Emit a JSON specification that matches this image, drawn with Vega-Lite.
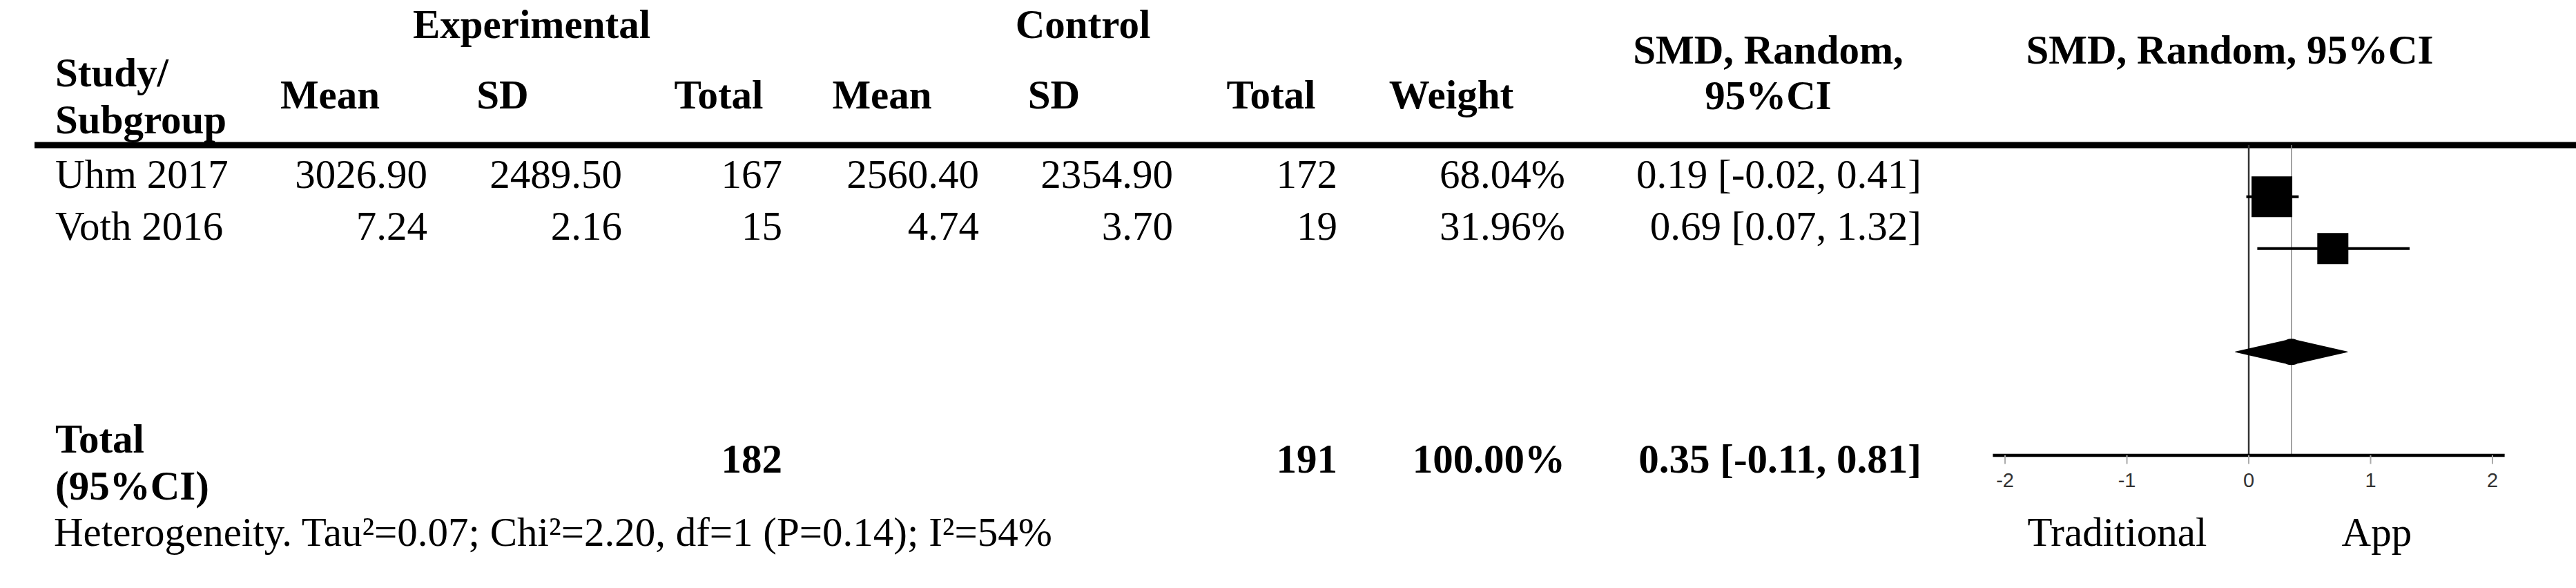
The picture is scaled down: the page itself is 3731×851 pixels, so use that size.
{
  "$schema": "https://vega.github.io/schema/vega-lite/v6.json",
  "padding": {"left": 45, "top": 0, "right": 0, "bottom": 0},
  "bounds": "flush",
  "spacing": 0,
  "background": "white",
  "config": {
    "view": {"stroke": null},
    "text": {"font": "Liberation Serif", "fontSize": 59, "color": "black", "baseline": "alphabetic"},
    "concat": {"spacing": 0}
  },
  "params": [
    {"name": "tableSlots", "value": ["t0","t1","t2","t3","group","t5","t6","t7","t8","t9","t10","t11","header","t13","t14","t15","line","t17","t18","t19","t20","Uhm 2017","t22","t23","t24","t25","t26","Voth 2016","t28","t29","t30","t31","t32","t33","t34","t35","t36","t37","t38","t39","t40","t41","t42","t43","t44","t45","t46","t47","t48","t49","t50","t51","t52","t53","Total","t55","t56","t57","t58","t59","t60","t61","Heterogeneity","t63","t64","t65","t66","t67"]},
    {"name": "plotSlots", "value": ["p0","p1","p2","p3","p4","p5","p6","title","p8","p9","p10","p11","p12","p13","p14","p15","line","p17","p18","p19","p20","p21","Uhm 2017","p23","p24","p25","p26","p27","Voth 2016","p29","p30","p31","p32","p33","p34","p35","p36","p37","p38","p39","Total","p41","p42","p43","p44","p45","p46","p47","p48","p49","p50","p51","axis","tickEnd","p54","ticks","p56","p57","p58","p59","p60","p61","labels","p63","p64","p65","p66","p67"]}
  ],
  "datasets": {
    "studies": [
      {"study": "Uhm 2017", "expMean": 3026.90, "expSD": 2489.50, "expN": 167, "ctrlMean": 2560.40, "ctrlSD": 2354.90, "ctrlN": 172, "weight": 0.6804, "smd": 0.19, "lo": -0.02, "hi": 0.41, "ci": "0.19 [-0.02, 0.41]"},
      {"study": "Voth 2016", "expMean": 7.24, "expSD": 2.16, "expN": 15, "ctrlMean": 4.74, "ctrlSD": 3.70, "ctrlN": 19, "weight": 0.3196, "smd": 0.69, "lo": 0.07, "hi": 1.32, "ci": "0.69 [0.07, 1.32]"}
    ],
    "total": [
      {"study": "Total", "label": "Total\n(95%CI)", "expN": 182, "ctrlN": 191, "weight": 1, "smd": 0.35, "lo": -0.11, "hi": 0.81, "ci": "0.35 [-0.11, 0.81]"}
    ],
    "diamond": [
      {"study": "Total", "smd": -0.11, "w": 0},
      {"study": "Total", "smd": 0.35, "w": 1},
      {"study": "Total", "smd": 0.81, "w": 0}
    ],
    "notes": [
      {"row": "Heterogeneity", "text": "Heterogeneity. Tau²=0.07; Chi²=2.20, df=1 (P=0.14); I²=54%"}
    ],
    "headers": [
      {"col": "study", "row": "header", "text": "Study/\nSubgroup"},
      {"col": "expMean", "row": "header", "text": "Mean"},
      {"col": "expSD", "row": "header", "text": "SD"},
      {"col": "expSD", "row": "group", "text": "Experimental"},
      {"col": "expN", "row": "header", "text": "Total"},
      {"col": "ctrlMean", "row": "header", "text": "Mean"},
      {"col": "ctrlSD", "row": "header", "text": "SD"},
      {"col": "ctrlSD", "row": "group", "text": "Control"},
      {"col": "ctrlN", "row": "header", "text": "Total"},
      {"col": "weight", "row": "header", "text": "Weight"},
      {"col": "smd", "row": "header", "text": "SMD, Random,\n95%CI"},
      {"col": "forest", "row": "title", "text": "SMD, Random, 95%CI"}
    ],
    "ticks": [{"v": -2}, {"v": -1}, {"v": 0}, {"v": 1}, {"v": 2}],
    "sides": [{"label": "Traditional", "v": -1.08}, {"label": "App", "v": 1.05}]
  },
  "hconcat": [
    {
      "width": 295, "height": 851,
      "layer": [
        {"data": {"values": [{"row": "line"}]}, "mark": {"type": "rule", "strokeWidth": 9, "color": "black"},
         "encoding": {"y": {"field": "row", "type": "nominal", "scale": {"type": "point", "domain": {"expr": "tableSlots"}, "padding": 0.62, "align": 0.68}, "axis": null}}},
        {"data": {"name": "headers"}, "transform": [{"filter": "datum.col == 'study'"}],
         "mark": {"type": "text", "fontWeight": "bold", "align": "left", "dx": 30, "dy": -35, "lineBreak": "\n", "lineHeight": 68},
         "encoding": {"x": {"datum": "start", "type": "nominal", "scale": {"type": "point", "domain": ["start", "mid", "end"], "padding": 0}, "axis": null},
                      "y": {"field": "row", "type": "nominal", "axis": null},
                      "text": {"field": "text", "type": "nominal"}}},
        {"data": {"name": "studies"}, "mark": {"type": "text", "align": "left", "dx": 30},
         "encoding": {"x": {"datum": "start", "type": "nominal", "axis": null},
                      "y": {"field": "study", "type": "nominal", "axis": null},
                      "text": {"field": "study", "type": "nominal"}}},
        {"data": {"name": "total"}, "mark": {"type": "text", "align": "left", "dx": 30, "dy": -29, "fontWeight": "bold", "lineBreak": "\n", "lineHeight": 68},
         "encoding": {"x": {"datum": "start", "type": "nominal", "axis": null},
                      "y": {"field": "study", "type": "nominal", "axis": null},
                      "text": {"field": "label", "type": "nominal"}}},
        {"data": {"name": "notes"}, "mark": {"type": "text", "align": "left", "dx": 28, "dy": 6},
         "encoding": {"x": {"datum": "start", "type": "nominal", "axis": null},
                      "y": {"field": "row", "type": "nominal", "axis": null},
                      "text": {"field": "text", "type": "nominal"}}}
      ]
    },
    {
      "width": 274, "height": 851,
      "layer": [
        {"data": {"values": [{"row": "line"}]}, "mark": {"type": "rule", "strokeWidth": 9, "color": "black"},
         "encoding": {"y": {"field": "row", "type": "nominal", "scale": {"type": "point", "domain": {"expr": "tableSlots"}, "padding": 0.62, "align": 0.68}, "axis": null}}},
        {"data": {"name": "headers"}, "transform": [{"filter": "datum.col == 'expMean'"}],
         "mark": {"type": "text", "fontWeight": "bold", "align": "center", "dx": -4, "dy": -3},
         "encoding": {"y": {"field": "row", "type": "nominal", "axis": null}, "text": {"field": "text", "type": "nominal"}}},
        {"data": {"name": "studies"}, "mark": {"type": "text", "align": "right"},
         "encoding": {"x": {"datum": "end", "type": "nominal", "scale": {"type": "point", "domain": ["start", "mid", "end"], "padding": 0}, "axis": null},
                      "y": {"field": "study", "type": "nominal", "axis": null},
                      "text": {"field": "expMean", "type": "quantitative", "format": ".2f"}}}
      ]
    },
    {
      "width": 282, "height": 851,
      "layer": [
        {"data": {"values": [{"row": "line"}]}, "mark": {"type": "rule", "strokeWidth": 9, "color": "black"},
         "encoding": {"y": {"field": "row", "type": "nominal", "scale": {"type": "point", "domain": {"expr": "tableSlots"}, "padding": 0.62, "align": 0.68}, "axis": null}}},
        {"data": {"name": "headers"}, "transform": [{"filter": "datum.col == 'expSD' && datum.row == 'header'"}],
         "mark": {"type": "text", "fontWeight": "bold", "align": "center", "dx": -32, "dy": -3},
         "encoding": {"y": {"field": "row", "type": "nominal", "axis": null}, "text": {"field": "text", "type": "nominal"}}},
        {"data": {"name": "headers"}, "transform": [{"filter": "datum.col == 'expSD' && datum.row == 'group'"}],
         "mark": {"type": "text", "fontWeight": "bold", "align": "center", "dx": 10, "dy": -5},
         "encoding": {"y": {"field": "row", "type": "nominal", "axis": null}, "text": {"field": "text", "type": "nominal"}}},
        {"data": {"name": "studies"}, "mark": {"type": "text", "align": "right"},
         "encoding": {"x": {"datum": "end", "type": "nominal", "scale": {"type": "point", "domain": ["start", "mid", "end"], "padding": 0}, "axis": null},
                      "y": {"field": "study", "type": "nominal", "axis": null},
                      "text": {"field": "expSD", "type": "quantitative", "format": ".2f"}}}
      ]
    },
    {
      "width": 232, "height": 851,
      "layer": [
        {"data": {"values": [{"row": "line"}]}, "mark": {"type": "rule", "strokeWidth": 9, "color": "black"},
         "encoding": {"y": {"field": "row", "type": "nominal", "scale": {"type": "point", "domain": {"expr": "tableSlots"}, "padding": 0.62, "align": 0.68}, "axis": null}}},
        {"data": {"name": "headers"}, "transform": [{"filter": "datum.col == 'expN'"}],
         "mark": {"type": "text", "fontWeight": "bold", "align": "center", "dx": 24, "dy": -3},
         "encoding": {"y": {"field": "row", "type": "nominal", "axis": null}, "text": {"field": "text", "type": "nominal"}}},
        {"data": {"name": "studies"}, "mark": {"type": "text", "align": "right"},
         "encoding": {"x": {"datum": "end", "type": "nominal", "scale": {"type": "point", "domain": ["start", "mid", "end"], "padding": 0}, "axis": null},
                      "y": {"field": "study", "type": "nominal", "axis": null},
                      "text": {"field": "expN", "type": "quantitative", "format": "d"}}},
        {"data": {"name": "total"}, "mark": {"type": "text", "align": "right", "fontWeight": "bold"},
         "encoding": {"x": {"datum": "end", "type": "nominal", "axis": null},
                      "y": {"field": "study", "type": "nominal", "axis": null},
                      "text": {"field": "expN", "type": "quantitative", "format": "d"}}}
      ]
    },
    {
      "width": 285, "height": 851,
      "layer": [
        {"data": {"values": [{"row": "line"}]}, "mark": {"type": "rule", "strokeWidth": 9, "color": "black"},
         "encoding": {"y": {"field": "row", "type": "nominal", "scale": {"type": "point", "domain": {"expr": "tableSlots"}, "padding": 0.62, "align": 0.68}, "axis": null}}},
        {"data": {"name": "headers"}, "transform": [{"filter": "datum.col == 'ctrlMean'"}],
         "mark": {"type": "text", "fontWeight": "bold", "align": "center", "dx": 2, "dy": -3},
         "encoding": {"y": {"field": "row", "type": "nominal", "axis": null}, "text": {"field": "text", "type": "nominal"}}},
        {"data": {"name": "studies"}, "mark": {"type": "text", "align": "right"},
         "encoding": {"x": {"datum": "end", "type": "nominal", "scale": {"type": "point", "domain": ["start", "mid", "end"], "padding": 0}, "axis": null},
                      "y": {"field": "study", "type": "nominal", "axis": null},
                      "text": {"field": "ctrlMean", "type": "quantitative", "format": ".2f"}}}
      ]
    },
    {
      "width": 281, "height": 851,
      "layer": [
        {"data": {"values": [{"row": "line"}]}, "mark": {"type": "rule", "strokeWidth": 9, "color": "black"},
         "encoding": {"y": {"field": "row", "type": "nominal", "scale": {"type": "point", "domain": {"expr": "tableSlots"}, "padding": 0.62, "align": 0.68}, "axis": null}}},
        {"data": {"name": "headers"}, "transform": [{"filter": "datum.col == 'ctrlSD' && datum.row == 'header'"}],
         "mark": {"type": "text", "fontWeight": "bold", "align": "center", "dx": -32, "dy": -3},
         "encoding": {"y": {"field": "row", "type": "nominal", "axis": null}, "text": {"field": "text", "type": "nominal"}}},
        {"data": {"name": "headers"}, "transform": [{"filter": "datum.col == 'ctrlSD' && datum.row == 'group'"}],
         "mark": {"type": "text", "fontWeight": "bold", "align": "center", "dx": 10, "dy": -5},
         "encoding": {"y": {"field": "row", "type": "nominal", "axis": null}, "text": {"field": "text", "type": "nominal"}}},
        {"data": {"name": "studies"}, "mark": {"type": "text", "align": "right"},
         "encoding": {"x": {"datum": "end", "type": "nominal", "scale": {"type": "point", "domain": ["start", "mid", "end"], "padding": 0}, "axis": null},
                      "y": {"field": "study", "type": "nominal", "axis": null},
                      "text": {"field": "ctrlSD", "type": "quantitative", "format": ".2f"}}}
      ]
    },
    {
      "width": 238, "height": 851,
      "layer": [
        {"data": {"values": [{"row": "line"}]}, "mark": {"type": "rule", "strokeWidth": 9, "color": "black"},
         "encoding": {"y": {"field": "row", "type": "nominal", "scale": {"type": "point", "domain": {"expr": "tableSlots"}, "padding": 0.62, "align": 0.68}, "axis": null}}},
        {"data": {"name": "headers"}, "transform": [{"filter": "datum.col == 'ctrlN'"}],
         "mark": {"type": "text", "fontWeight": "bold", "align": "center", "dx": 23, "dy": -3},
         "encoding": {"y": {"field": "row", "type": "nominal", "axis": null}, "text": {"field": "text", "type": "nominal"}}},
        {"data": {"name": "studies"}, "mark": {"type": "text", "align": "right"},
         "encoding": {"x": {"datum": "end", "type": "nominal", "scale": {"type": "point", "domain": ["start", "mid", "end"], "padding": 0}, "axis": null},
                      "y": {"field": "study", "type": "nominal", "axis": null},
                      "text": {"field": "ctrlN", "type": "quantitative", "format": "d"}}},
        {"data": {"name": "total"}, "mark": {"type": "text", "align": "right", "fontWeight": "bold"},
         "encoding": {"x": {"datum": "end", "type": "nominal", "axis": null},
                      "y": {"field": "study", "type": "nominal", "axis": null},
                      "text": {"field": "ctrlN", "type": "quantitative", "format": "d"}}}
      ]
    },
    {
      "width": 330, "height": 851,
      "layer": [
        {"data": {"values": [{"row": "line"}]}, "mark": {"type": "rule", "strokeWidth": 9, "color": "black"},
         "encoding": {"y": {"field": "row", "type": "nominal", "scale": {"type": "point", "domain": {"expr": "tableSlots"}, "padding": 0.62, "align": 0.68}, "axis": null}}},
        {"data": {"name": "headers"}, "transform": [{"filter": "datum.col == 'weight'"}],
         "mark": {"type": "text", "fontWeight": "bold", "align": "center", "dx": 0, "dy": -3},
         "encoding": {"y": {"field": "row", "type": "nominal", "axis": null}, "text": {"field": "text", "type": "nominal"}}},
        {"data": {"name": "studies"}, "mark": {"type": "text", "align": "right"},
         "encoding": {"x": {"datum": "end", "type": "nominal", "scale": {"type": "point", "domain": ["start", "mid", "end"], "padding": 0}, "axis": null},
                      "y": {"field": "study", "type": "nominal", "axis": null},
                      "text": {"field": "weight", "type": "quantitative", "format": ".2%"}}},
        {"data": {"name": "total"}, "mark": {"type": "text", "align": "right", "fontWeight": "bold"},
         "encoding": {"x": {"datum": "end", "type": "nominal", "axis": null},
                      "y": {"field": "study", "type": "nominal", "axis": null},
                      "text": {"field": "weight", "type": "quantitative", "format": ".2%"}}}
      ]
    },
    {
      "width": 516, "height": 851,
      "layer": [
        {"data": {"values": [{"row": "line"}]}, "mark": {"type": "rule", "strokeWidth": 9, "color": "black"},
         "encoding": {"y": {"field": "row", "type": "nominal", "scale": {"type": "point", "domain": {"expr": "tableSlots"}, "padding": 0.62, "align": 0.68}, "axis": null}}},
        {"data": {"name": "headers"}, "transform": [{"filter": "datum.col == 'smd'"}],
         "mark": {"type": "text", "fontWeight": "bold", "align": "center", "dx": 36, "dy": -68, "lineBreak": "\n", "lineHeight": 66},
         "encoding": {"y": {"field": "row", "type": "nominal", "axis": null}, "text": {"field": "text", "type": "nominal"}}},
        {"data": {"name": "studies"}, "mark": {"type": "text", "align": "right"},
         "encoding": {"x": {"datum": "end", "type": "nominal", "scale": {"type": "point", "domain": ["start", "mid", "end"], "padding": 0}, "axis": null},
                      "y": {"field": "study", "type": "nominal", "axis": null},
                      "text": {"field": "ci", "type": "nominal"}}},
        {"data": {"name": "total"}, "mark": {"type": "text", "align": "right", "fontWeight": "bold"},
         "encoding": {"x": {"datum": "end", "type": "nominal", "axis": null},
                      "y": {"field": "study", "type": "nominal", "axis": null},
                      "text": {"field": "ci", "type": "nominal"}}}
      ]
    },
    {
      "width": 953, "height": 851,
      "resolve": {"scale": {"size": "independent"}},
      "layer": [
        {"data": {"values": [{"row": "line"}]}, "mark": {"type": "rule", "strokeWidth": 9, "color": "black"},
         "encoding": {"y": {"field": "row", "type": "nominal", "scale": {"type": "point", "domain": {"expr": "plotSlots"}, "padding": 0.62, "align": 0.68}, "axis": null}}},
        {"data": {"name": "headers"}, "transform": [{"filter": "datum.col == 'forest'"}],
         "mark": {"type": "text", "fontWeight": "bold", "align": "center", "dx": -30, "dy": -6},
         "encoding": {"y": {"field": "row", "type": "nominal", "axis": null}, "text": {"field": "text", "type": "nominal"}}},
        {"data": {"values": [{}]}, "mark": {"type": "rule", "strokeWidth": 2.5, "color": "#333333"},
         "encoding": {"x": {"datum": 0, "type": "quantitative", "scale": {"domain": [-2.686, 2.714], "nice": false, "zero": false}, "axis": null},
                      "y": {"datum": "line", "type": "nominal", "axis": null},
                      "y2": {"datum": "axis"}}},
        {"data": {"name": "total"}, "mark": {"type": "rule", "strokeWidth": 1.5, "color": "#8a8a8a"},
         "encoding": {"x": {"field": "smd", "type": "quantitative", "axis": null},
                      "y": {"datum": "line", "type": "nominal", "axis": null},
                      "y2": {"datum": "axis"}}},
        {"data": {"name": "studies"}, "mark": {"type": "rule", "strokeWidth": 4, "color": "black"},
         "encoding": {"x": {"field": "lo", "type": "quantitative", "axis": null},
                      "x2": {"field": "hi"},
                      "y": {"field": "study", "type": "nominal", "axis": null}}},
        {"data": {"name": "studies"}, "mark": {"type": "point", "shape": "square", "filled": true, "color": "black", "opacity": 1},
         "encoding": {"x": {"field": "smd", "type": "quantitative", "axis": null},
                      "y": {"field": "study", "type": "nominal", "axis": null},
                      "size": {"field": "weight", "type": "quantitative", "scale": {"domain": [0, 1], "range": [735, 4770]}, "legend": null}}},
        {"data": {"name": "diamond"}, "mark": {"type": "trail", "color": "black"},
         "encoding": {"x": {"field": "smd", "type": "quantitative", "axis": null},
                      "y": {"field": "study", "type": "nominal", "axis": null},
                      "order": {"field": "smd", "type": "quantitative"},
                      "size": {"field": "w", "type": "quantitative", "scale": {"domain": [0, 1], "range": [0, 38]}, "legend": null}}},
        {"data": {"values": [{}]}, "mark": {"type": "rule", "strokeWidth": 4.5, "color": "black"},
         "encoding": {"x": {"datum": -2.1, "type": "quantitative", "axis": null},
                      "x2": {"datum": 2.1},
                      "y": {"datum": "axis", "type": "nominal", "axis": null}}},
        {"data": {"name": "ticks"}, "mark": {"type": "rule", "strokeWidth": 2, "color": "#aaaaaa"},
         "encoding": {"x": {"field": "v", "type": "quantitative", "axis": null},
                      "y": {"datum": "axis", "type": "nominal", "axis": null},
                      "y2": {"datum": "tickEnd"}}},
        {"data": {"name": "ticks"}, "mark": {"type": "text", "font": "Liberation Sans", "fontSize": 29, "color": "#333333", "baseline": "middle"},
         "encoding": {"x": {"field": "v", "type": "quantitative", "axis": null},
                      "y": {"datum": "ticks", "type": "nominal", "axis": null},
                      "text": {"field": "v", "type": "nominal"}}},
        {"data": {"name": "sides"}, "mark": {"type": "text", "dy": 6},
         "encoding": {"x": {"field": "v", "type": "quantitative", "axis": null},
                      "y": {"datum": "labels", "type": "nominal", "axis": null},
                      "text": {"field": "label", "type": "nominal"}}}
      ]
    }
  ]
}
